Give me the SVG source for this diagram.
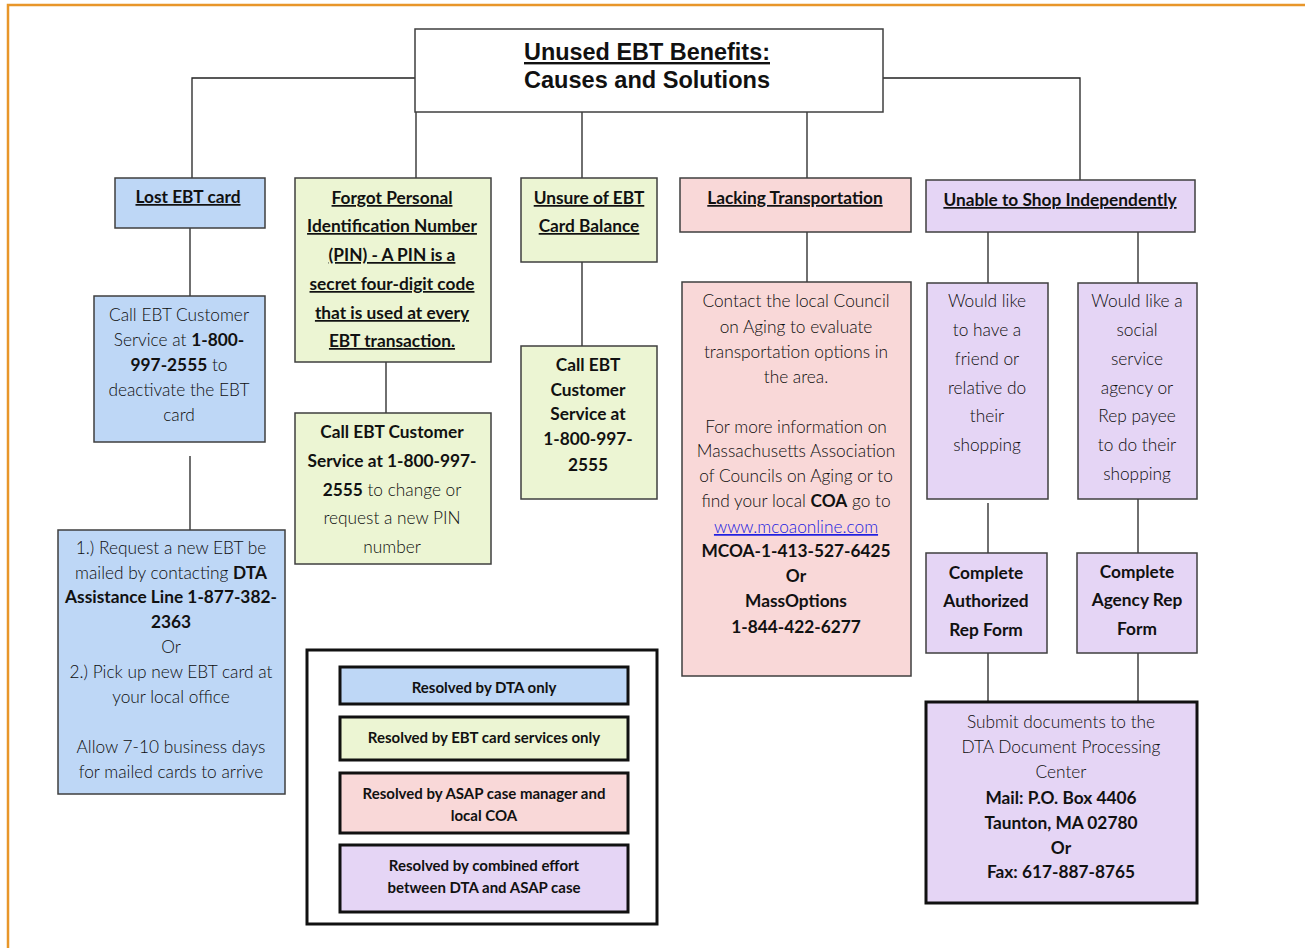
<svg xmlns="http://www.w3.org/2000/svg" width="1305" height="948" viewBox="0 0 1305 948">
<style>
.bx{stroke:#3f3f3f;stroke-width:1.5}
.thick{stroke:#111;stroke-width:3}
.blue{fill:#BED7F6}
.green{fill:#ECF5D3}
.pink{fill:#F9D8D8}
.purple{fill:#E5D5F5}
.white{fill:#fff}
.t{font-family:Lato,"Liberation Sans",sans-serif;font-size:17.3px;text-anchor:middle;fill:#0d0d0d;font-weight:300}
.b{font-weight:bold;fill:#111}
.u{text-decoration:underline}
.lg{font-family:Lato,"Liberation Sans",sans-serif;font-size:15px;font-weight:bold;text-anchor:middle;fill:#111}
.title{font-family:"Liberation Sans Narrow","Liberation Sans",sans-serif;font-size:24px;font-weight:bold;text-anchor:middle;fill:#111}
.link{fill:#2020e0;text-decoration:underline}
.c{stroke:#222;stroke-width:1.3;fill:none}
</style>
<g id="frame"><path d="M8 948 V5 H1305" fill="none" stroke="#E8962A" stroke-width="2.5"/></g>
<g id="connectors">
<path class="c" d="M415 78 H192 V178"/>
<path class="c" d="M416 112 V178"/>
<path class="c" d="M582 112 V178"/>
<path class="c" d="M807 112 V178"/>
<path class="c" d="M883 78 H1080 V180"/>
<path class="c" d="M190 228 V296"/>
<path class="c" d="M190 456 V530"/>
<path class="c" d="M386 362 V413"/>
<path class="c" d="M582 262 V346"/>
<path class="c" d="M807 232 V282"/>
<path class="c" d="M988 232 V283"/>
<path class="c" d="M1138 229 V283"/>
<path class="c" d="M988 503 V553"/>
<path class="c" d="M1138 499 V553"/>
<path class="c" d="M988 653 V702"/>
<path class="c" d="M1138 653 V702"/>
</g>
<g id="title">
<rect class="bx white" x="415" y="29" width="468" height="83"/>
<text class="title u" x="647" y="60" textLength="246" lengthAdjust="spacingAndGlyphs">Unused EBT Benefits:</text>
<text class="title" x="647" y="88" textLength="246" lengthAdjust="spacingAndGlyphs">Causes and Solutions</text>
</g>
<g id="lost">
<rect class="bx blue" x="115" y="178" width="150" height="50"/>
<text class="t b u" x="188" y="203">Lost EBT card</text>
</g>
<g id="lost-call">
<rect class="bx blue" x="94" y="296" width="171" height="146"/>
<text class="t" x="179" y="321">Call EBT Customer</text>
<text class="t" x="179" y="346">Service at <tspan class="b">1-800-</tspan></text>
<text class="t" x="179" y="371"><tspan class="b">997-2555</tspan> to</text>
<text class="t" x="179" y="396">deactivate the EBT</text>
<text class="t" x="179" y="421">card</text>
</g>
<g id="lost-request">
<rect class="bx blue" x="58" y="530" width="227" height="264"/>
<text class="t" x="171" y="554">1.) Request a new EBT be</text>
<text class="t" x="171" y="579">mailed by contacting <tspan class="b">DTA</tspan></text>
<text class="t b" x="171" y="603">Assistance Line 1-877-382-</text>
<text class="t b" x="171" y="628">2363</text>
<text class="t" x="171" y="653">Or</text>
<text class="t" x="171" y="678">2.) Pick up new EBT card at</text>
<text class="t" x="171" y="703">your local office</text>
<text class="t" x="171" y="753">Allow 7-10 business days</text>
<text class="t" x="171" y="778">for mailed cards to arrive</text>
</g>
<g id="pin">
<rect class="bx green" x="295" y="178" width="196" height="184"/>
<text class="t b u" x="392" y="204">Forgot Personal</text>
<text class="t b u" x="392" y="232">Identification Number</text>
<text class="t b u" x="392" y="261">(PIN) - A PIN is a</text>
<text class="t b u" x="392" y="290">secret four-digit code</text>
<text class="t b u" x="392" y="319">that is used at every</text>
<text class="t b u" x="392" y="347">EBT transaction.</text>
</g>
<g id="pin-call">
<rect class="bx green" x="295" y="413" width="196" height="151"/>
<text class="t b" x="392" y="438">Call EBT Customer</text>
<text class="t b" x="392" y="467">Service at 1-800-997-</text>
<text class="t" x="392" y="496"><tspan class="b">2555</tspan> to change or</text>
<text class="t" x="392" y="524">request a new PIN</text>
<text class="t" x="392" y="553">number</text>
</g>
<g id="balance">
<rect class="bx green" x="521" y="178" width="136" height="84"/>
<text class="t b u" x="589" y="204">Unsure of EBT</text>
<text class="t b u" x="589" y="232">Card Balance</text>
</g>
<g id="balance-call">
<rect class="bx green" x="521" y="346" width="136" height="153"/>
<text class="t b" x="588" y="371">Call EBT</text>
<text class="t b" x="588" y="396">Customer</text>
<text class="t b" x="588" y="420">Service at</text>
<text class="t b" x="588" y="445">1-800-997-</text>
<text class="t b" x="588" y="471">2555</text>
</g>
<g id="transport">
<rect class="bx pink" x="680" y="178" width="231" height="54"/>
<text class="t b u" x="795" y="204">Lacking Transportation</text>
</g>
<g id="transport-contact">
<rect class="bx pink" x="682" y="282" width="229" height="394"/>
<text class="t" x="796" y="307">Contact the local Council</text>
<text class="t" x="796" y="333">on Aging to evaluate</text>
<text class="t" x="796" y="358">transportation options in</text>
<text class="t" x="796" y="383">the area.</text>
<text class="t" x="796" y="433">For more information on</text>
<text class="t" x="796" y="457">Massachusetts Association</text>
<text class="t" x="796" y="482">of Councils on Aging or to</text>
<text class="t" x="796" y="507">find your local <tspan class="b">COA</tspan> go to</text>
<text class="t link" x="796" y="533">www.mcoaonline.com</text>
<text class="t b" x="796" y="557">MCOA-1-413-527-6425</text>
<text class="t b" x="796" y="582">Or</text>
<text class="t b" x="796" y="607">MassOptions</text>
<text class="t b" x="796" y="633">1-844-422-6277</text>
</g>
<g id="shop">
<rect class="bx purple" x="926" y="180" width="269" height="52"/>
<text class="t b u" x="1060" y="206">Unable to Shop Independently</text>
</g>
<g id="shop-friend">
<rect class="bx purple" x="927" y="283" width="121" height="216"/>
<text class="t" x="987" y="307">Would like</text>
<text class="t" x="987" y="336">to have a</text>
<text class="t" x="987" y="365">friend or</text>
<text class="t" x="987" y="394">relative do</text>
<text class="t" x="987" y="422">their</text>
<text class="t" x="987" y="451">shopping</text>
</g>
<g id="shop-agency">
<rect class="bx purple" x="1078" y="283" width="119" height="216"/>
<text class="t" x="1137" y="307">Would like a</text>
<text class="t" x="1137" y="336">social</text>
<text class="t" x="1137" y="365">service</text>
<text class="t" x="1137" y="394">agency or</text>
<text class="t" x="1137" y="422">Rep payee</text>
<text class="t" x="1137" y="451">to do their</text>
<text class="t" x="1137" y="480">shopping</text>
</g>
<g id="form-authorized">
<rect class="bx purple" x="926" y="553" width="121" height="100"/>
<text class="t b" x="986" y="579">Complete</text>
<text class="t b" x="986" y="607">Authorized</text>
<text class="t b" x="986" y="636">Rep Form</text>
</g>
<g id="form-agency">
<rect class="bx purple" x="1077" y="553" width="120" height="100"/>
<text class="t b" x="1137" y="578">Complete</text>
<text class="t b" x="1137" y="606">Agency Rep</text>
<text class="t b" x="1137" y="635">Form</text>
</g>
<g id="submit">
<rect class="thick purple" x="926" y="702" width="271" height="201"/>
<text class="t" x="1061" y="728">Submit documents to the</text>
<text class="t" x="1061" y="753">DTA Document Processing</text>
<text class="t" x="1061" y="778">Center</text>
<text class="t b" x="1061" y="804">Mail: P.O. Box 4406</text>
<text class="t b" x="1061" y="829">Taunton, MA 02780</text>
<text class="t b" x="1061" y="854">Or</text>
<text class="t b" x="1061" y="878">Fax: 617-887-8765</text>
</g>
<g id="legend">
<rect class="thick white" x="307" y="650" width="350" height="274"/>
<rect class="thick blue" x="340" y="667" width="288" height="37"/>
<text class="lg" x="484" y="693">Resolved by DTA only</text>
<rect class="thick green" x="340" y="717" width="288" height="43"/>
<text class="lg" x="484" y="743">Resolved by EBT  card services only</text>
<rect class="thick pink" x="340" y="773" width="288" height="60"/>
<text class="lg" x="484" y="799">Resolved by ASAP case manager and</text>
<text class="lg" x="484" y="821">local COA</text>
<rect class="thick purple" x="340" y="845" width="288" height="67"/>
<text class="lg" x="484" y="871">Resolved by combined effort</text>
<text class="lg" x="484" y="893">between DTA and ASAP case</text>
</g>
</svg>
